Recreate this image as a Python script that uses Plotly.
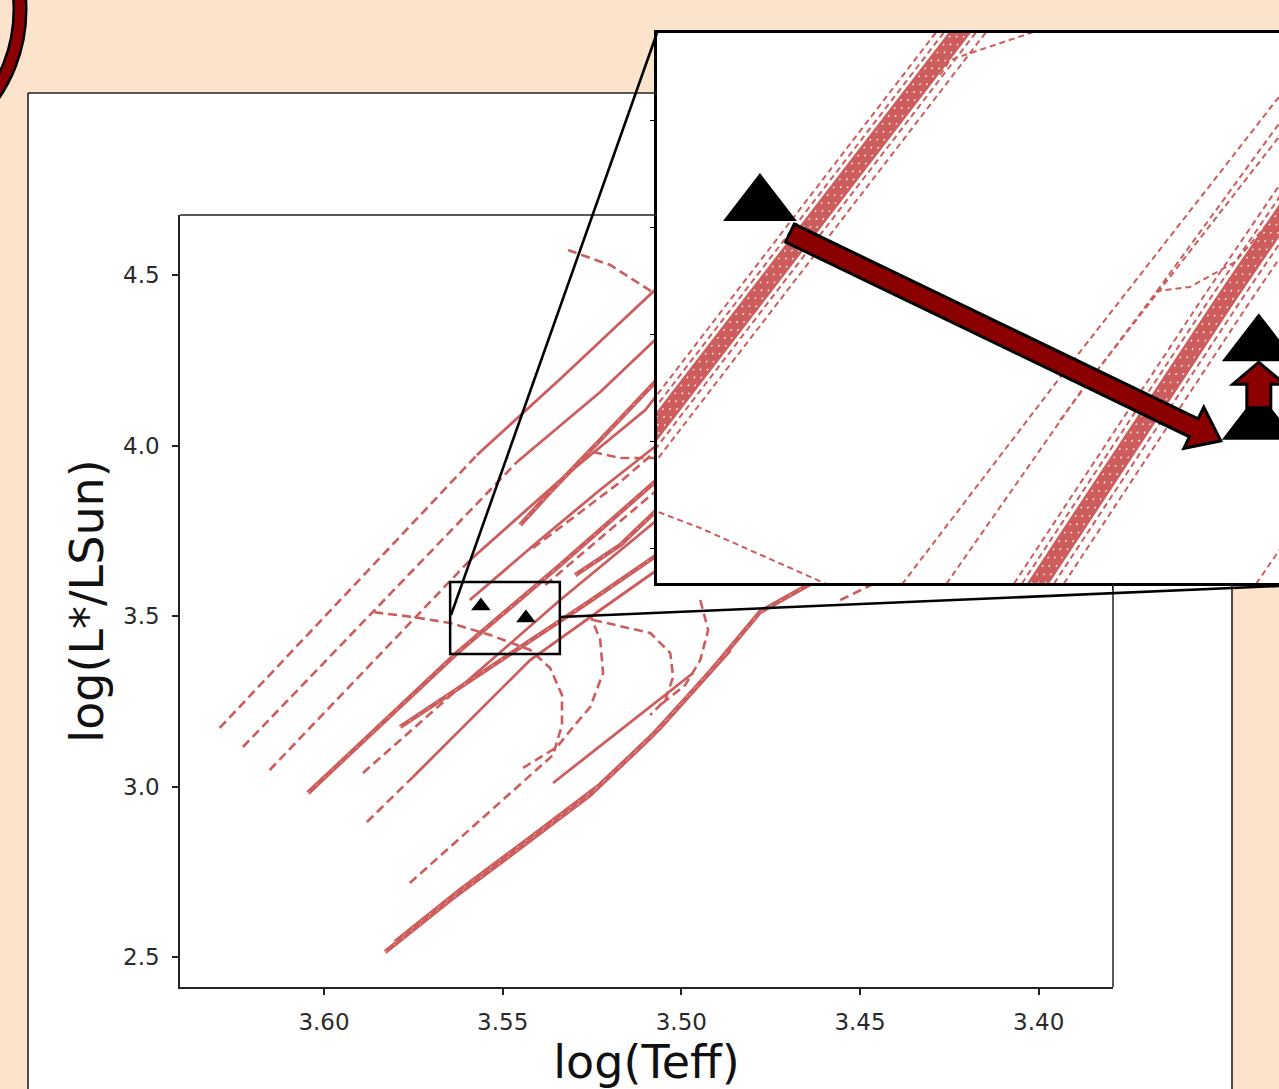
import math
import plotly.graph_objects as go

W, H = 1279, 1089

# ---------------- axis ticks ----------------
x_ticks = [3.60, 3.55, 3.50, 3.45, 3.40]
x_tick_labels = ["3.60", "3.55", "3.50", "3.45", "3.40"]
y_ticks = [2.5, 3.0, 3.5, 4.0, 4.5]
y_tick_labels = ["2.5", "3.0", "3.5", "4.0", "4.5"]
inset_x_ticks = [3.5472]
inset_y_ticks = [3.5427, 3.5253, 3.5079, 3.4905, 3.4731]

# ---------------- stars (log Teff, log L) ----------------
star_teff = [3.5561, 3.5435]
star_logl = [3.5293, 3.4941]
inset_star_teff = [3.5561, 3.5435, 3.5435]
inset_star_logl = [3.5290, 3.5062, 3.4934]

# zoom box in main panel
box_teff = [3.5647, 3.5340]
box_logl = [3.3886, 3.5997]

# ---------------- main panel tracks ----------------
# dashed tracks
m01d_teff = [3.6292, 3.5572]; m01d_logl = [3.1716, 3.9721]
m02d_teff = [3.6227, 3.5460]; m02d_logl = [3.1158, 3.9516]
m03d_teff = [3.6152, 3.5591]; m03d_logl = [3.0484, 3.6642]
mtop_teff = [3.5317, 3.5199, 3.5068]; mtop_logl = [4.5733, 4.5293, 4.4413]
mhook_teff = [3.5247, 3.5171, 3.5068]; mhook_logl = [3.9809, 3.9633, 3.9633]
m05d_teff = [3.5891, 3.5628]; m05d_logl = [3.0396, 3.2830]
m06d_teff = [3.5880, 3.5751]; m06d_logl = [2.8959, 3.0279]
m07_teff = [3.5760, 3.5359, 3.5334, 3.5334, 3.5367, 3.5423, 3.5535, 3.5647, 3.5751, 3.5866]
m07_logl = [2.7170, 3.0924, 3.1804, 3.2683, 3.3475, 3.4003, 3.4443, 3.4795, 3.4971, 3.5117]
m09_teff = [3.5443, 3.5348, 3.5303, 3.5255, 3.5219, 3.5227, 3.5255]
m09_logl = [3.0543, 3.1158, 3.1745, 3.2331, 3.3328, 3.4296, 3.5029]
m10_teff = [3.5247, 3.5087, 3.5031, 3.5023, 3.5045, 3.5087]
m10_logl = [3.4883, 3.4501, 3.3915, 3.3211, 3.2537, 3.2097]
m11_teff = [3.4947, 3.4925, 3.4947, 3.4989, 3.5059]
m11_logl = [3.5469, 3.4589, 3.3710, 3.2977, 3.2390]
mda_teff = [3.5415, 3.5171, 3.5068]; mda_logl = [3.6994, 3.8930, 3.9868]
mdb_teff = [3.5381, 3.5115, 3.5068]; mdb_logl = [3.5909, 3.8255, 3.8695]
m13_teff = [3.4555, 3.4457]; m13_logl = [3.5469, 3.5968]

# solid tracks
m01s_teff = [3.5572, 3.5339, 3.5068]; m01s_logl = [3.9721, 4.1950, 4.4619]
m02s_teff = [3.5460, 3.5227, 3.5068]; m02s_logl = [3.9516, 4.1569, 4.3152]
m03s_teff = [3.5591, 3.5339, 3.5101, 3.5068]; m03s_logl = [3.6642, 3.8988, 4.1041, 4.1481]
m05s_teff = [3.5628, 3.5339, 3.5068]; m05s_logl = [3.2830, 3.5469, 3.7815]
m06s_teff = [3.5751, 3.5423, 3.5227, 3.5068]; m06s_logl = [3.0279, 3.3710, 3.5176, 3.6349]
m08b_teff = [3.5359, 3.4967]; m08b_logl = [3.0103, 3.3328]
me1_teff = [3.5592, 3.5396, 3.5228, 3.5068]; me1_logl = [3.5469, 3.7229, 3.8695, 4.0015]

# thick (bundled) tracks
m04_teff = [3.6045, 3.5628, 3.5339, 3.5068]; m04_logl = [2.9809, 3.3915, 3.6496, 3.8988]
m08_teff = [3.5829, 3.5647, 3.5452, 3.5256, 3.5088, 3.4948, 3.4864]
m08_logl = [2.5147, 2.6672, 2.8196, 2.9751, 3.1422, 3.3065, 3.4003]
m08c_teff = [3.5801, 3.5619, 3.5424, 3.5228, 3.5060, 3.4920, 3.4780, 3.4635]
m08c_logl = [2.5440, 2.6965, 2.8490, 3.0044, 3.1716, 3.3358, 3.5117, 3.5968]
mj1_teff = [3.5451, 3.5367, 3.5227, 3.5152, 3.5068]; mj1_logl = [3.7669, 3.8636, 4.0161, 4.0982, 4.1921]
mj2_teff = [3.5297, 3.5171, 3.5068]; mj2_logl = [3.6202, 3.7082, 3.8109]
me2_teff = [3.5787, 3.5264, 3.5068]; me2_logl = [3.1745, 3.5381, 3.6789]

# ---------------- inset tracks ----------------
band_logl = [3.4647, 3.5135, 3.5624]
# band 1 (left bundle)
b1_dash_a = [3.56269, 3.55686, 3.55102]
b1_dash_b = [3.56249, 3.55665, 3.55082]
b1_core_a = [3.56226, 3.55643, 3.55059]
b1_core_b = [3.56208, 3.55625, 3.55042]
b1_core_c = [3.56191, 3.55607, 3.55024]
b1_dash_c = [3.56168, 3.55585, 3.55001]
b1_dash_d = [3.56143, 3.55559, 3.54976]
# band 2 (right bundle)
b2_dash_a = [3.54996, 3.54496, 3.53979]
b2_dash_b = [3.54976, 3.54476, 3.53958]
b2_core_a = [3.54953, 3.54453, 3.53936]
b2_core_b = [3.54936, 3.54436, 3.53918]
b2_core_c = [3.54918, 3.54418, 3.53900]
b2_dash_c = [3.54895, 3.54395, 3.53878]
b2_dash_d = [3.54870, 3.54370, 3.53852]

d1_teff = [3.55282, 3.54857, 3.54246]; d1_logl = [3.4647, 3.50053, 3.55098]
d2_teff = [3.55168, 3.54797, 3.54246]; d2_logl = [3.4647, 3.49890, 3.54447]
d3_teff = [3.54852, 3.54607, 3.54524, 3.54410, 3.54246]; d3_logl = [3.49402, 3.51502, 3.51567, 3.51973, 3.53226]
d4_teff = [3.54607, 3.54246]; d4_logl = [3.51502, 3.54691]
br_teff = [3.55155, 3.55130, 3.54904]; br_logl = [3.55017, 3.55261, 3.55749]
ll_teff = [3.55913, 3.55761, 3.55448, 3.55383]; ll_logl = [3.48019, 3.47645, 3.4675, 3.46522]
rb_teff = [3.54385, 3.54246]; rb_logl = [3.4647, 3.47775]

# ---------------- styling ----------------
PEACH = "#FCE4CC"
TRACK = "#CD5C5C"
DARKRED = "#8B0000"
FONT = "DejaVu Sans"

MAIN_X_RANGE = [3.6403, 3.3792]
MAIN_Y_RANGE = [2.412, 4.676]
IX_RANGE = [3.5587, 3.54299]
IY_RANGE = [3.4675, 3.557]
MX_DOM = [180 / W, 1113 / W]
MY_DOM = [1 - 987 / H, 1 - 215 / H]
IX_DOM = [657 / W, 1.0]
IY_DOM = [1 - 583 / H, 1 - 33 / H]

fig = go.Figure()


def add_line(tx, ly, width, dash, ax="x", ay="y", color=TRACK, opacity=1.0):
    fig.add_trace(go.Scatter(x=tx, y=ly, mode="lines", xaxis=ax, yaxis=ay,
                             line=dict(color=color, width=width, dash=dash),
                             opacity=opacity, hoverinfo="skip", showlegend=False))


main_dashed = [(m01d_teff, m01d_logl), (m02d_teff, m02d_logl), (m03d_teff, m03d_logl),
               (mtop_teff, mtop_logl), (mhook_teff, mhook_logl), (m05d_teff, m05d_logl),
               (m06d_teff, m06d_logl), (m07_teff, m07_logl), (m09_teff, m09_logl),
               (m10_teff, m10_logl), (m11_teff, m11_logl), (mda_teff, mda_logl),
               (mdb_teff, mdb_logl), (m13_teff, m13_logl)]
main_solid = [(m01s_teff, m01s_logl), (m02s_teff, m02s_logl), (m03s_teff, m03s_logl),
              (m05s_teff, m05s_logl), (m06s_teff, m06s_logl), (m08b_teff, m08b_logl),
              (me1_teff, me1_logl)]
main_thick = [(m04_teff, m04_logl), (m08_teff, m08_logl), (m08c_teff, m08c_logl),
              (mj1_teff, mj1_logl), (mj2_teff, mj2_logl), (me2_teff, me2_logl)]

for t, l in main_dashed:
    add_line(t, l, 2.6, "9px,5px")
for t, l in main_solid:
    add_line(t, l, 2.8, "solid")
for t, l in main_thick:
    add_line(t, l, 4.5, "solid")
for t, l in main_thick:
    add_line(t, l, 1.0, "2px,9px", color="white", opacity=0.6)

fig.add_trace(go.Scatter(x=star_teff, y=star_logl, mode="markers", xaxis="x", yaxis="y",
                         marker=dict(symbol="triangle-up", size=17, color="black"),
                         hoverinfo="skip", showlegend=False))

# inset
inset_thin_dashed = [(b1_dash_a, band_logl), (b1_dash_b, band_logl), (b1_dash_c, band_logl),
                     (b1_dash_d, band_logl), (b2_dash_a, band_logl), (b2_dash_b, band_logl),
                     (b2_dash_c, band_logl), (b2_dash_d, band_logl), (d1_teff, d1_logl),
                     (d2_teff, d2_logl), (d3_teff, d3_logl), (d4_teff, d4_logl),
                     (br_teff, br_logl), (ll_teff, ll_logl), (rb_teff, rb_logl)]
inset_core = [(b1_core_a, band_logl), (b1_core_b, band_logl), (b1_core_c, band_logl),
              (b2_core_a, band_logl), (b2_core_b, band_logl), (b2_core_c, band_logl)]

for t, l in inset_thin_dashed:
    add_line(t, l, 2.0, "6px,4px", "x2", "y2")
for t, l in inset_core:
    add_line(t, l, 7.0, "solid", "x2", "y2")
for t, l in inset_core:
    add_line(t, l, 1.3, "2px,8px", "x2", "y2", color="white", opacity=0.9)

fig.add_trace(go.Scatter(x=inset_star_teff, y=inset_star_logl, mode="markers", xaxis="x2", yaxis="y2",
                         marker=dict(symbol="triangle-up", size=64, color="black"),
                         hoverinfo="skip", showlegend=False))


# ---------------- helpers for decorations ----------------
def inset_to_px(t, l):
    fx = (t - IX_RANGE[0]) / (IX_RANGE[1] - IX_RANGE[0])
    fy = (l - IY_RANGE[0]) / (IY_RANGE[1] - IY_RANGE[0])
    x = (IX_DOM[0] + fx * (IX_DOM[1] - IX_DOM[0])) * W
    y = (1 - (IY_DOM[0] + fy * (IY_DOM[1] - IY_DOM[0]))) * H
    return x, y


def P(x, y):
    return x / W, 1 - y / H


def arrow_path(x0, y0, x1, y1, shaft_hw, head_hw, head_len):
    dx, dy = x1 - x0, y1 - y0
    d = math.hypot(dx, dy)
    ux, uy = dx / d, dy / d
    nx, ny = -uy, ux
    bx, by = x1 - ux * head_len, y1 - uy * head_len
    pts = [(x0 + nx * shaft_hw, y0 + ny * shaft_hw), (bx + nx * shaft_hw, by + ny * shaft_hw),
           (bx + nx * head_hw, by + ny * head_hw), (x1, y1),
           (bx - nx * head_hw, by - ny * head_hw), (bx - nx * shaft_hw, by - ny * shaft_hw),
           (x0 - nx * shaft_hw, y0 - ny * shaft_hw)]
    return "M " + " L ".join("%.5f,%.5f" % P(px, py) for px, py in pts) + " Z"


shapes = []
# white panel
x0p, y0p = P(28, 1100)
x1p, y1p = P(1232, 93)
shapes.append(dict(type="rect", xref="paper", yref="paper", x0=x0p, y0=y0p, x1=x1p, y1=y1p,
                   fillcolor="white", line=dict(width=0), layer="below"))


def seg(xa, ya, xb, yb, width, color="black", layer="above"):
    a = P(xa, ya)
    b = P(xb, yb)
    shapes.append(dict(type="line", xref="paper", yref="paper", x0=a[0], y0=a[1], x1=b[0], y1=b[1],
                       line=dict(color=color, width=width), layer=layer))


# panel borders (parts not hidden by inset)
seg(28, 93, 28, 1095, 1.6, "#222")
seg(28, 93, 657, 93, 1.6, "#222")
seg(1232, 583, 1232, 1095, 1.6, "#222")
# main axes frame top and right (partially hidden behind inset)
seg(180, 215, 657, 215, 1.5, "#222")
seg(1113, 583, 1113, 987, 1.5, "#222")

# circle ring top-left
c0 = P(-280, 160)
c1 = P(20, -140)
shapes.append(dict(type="circle", xref="paper", yref="paper", x0=c0[0], y0=c0[1], x1=c1[0], y1=c1[1],
                   line=dict(color="black", width=15), layer="below"))
shapes.append(dict(type="circle", xref="paper", yref="paper", x0=c0[0], y0=c0[1], x1=c1[0], y1=c1[1],
                   line=dict(color=DARKRED, width=10), layer="below"))

# zoom box on main panel
shapes.append(dict(type="rect", xref="x", yref="y", x0=box_teff[0], x1=box_teff[1],
                   y0=box_logl[0], y1=box_logl[1], line=dict(color="black", width=2.5),
                   fillcolor="rgba(0,0,0,0)", layer="above"))
# connectors
seg(451, 615, 657, 33, 2.6)
seg(560, 617, 1279, 586, 2.6)

# arrows in inset
t1 = inset_to_px(inset_star_teff[0], inset_star_logl[0])
t2 = inset_to_px(inset_star_teff[1], inset_star_logl[1])
t3 = inset_to_px(inset_star_teff[2], inset_star_logl[2])
big = arrow_path(t1[0] + 30, t1[1] + 28, t3[0] - 38, t3[1] + 17, 10, 23, 30)
small = arrow_path(t3[0], t3[1] - 16, t2[0], t2[1] + 17, 12, 26, 22)
for pth in (big, small):
    shapes.append(dict(type="path", xref="paper", yref="paper", path=pth,
                       fillcolor=DARKRED, line=dict(color="black", width=3), layer="above"))

tickfont = dict(family=FONT, size=23, color="#2a2a2a")

fig.update_layout(
    width=W, height=H, margin=dict(l=0, r=0, t=0, b=0),
    paper_bgcolor=PEACH, plot_bgcolor="white", showlegend=False,
    shapes=shapes,
    xaxis=dict(domain=MX_DOM, range=MAIN_X_RANGE, anchor="y",
               tickmode="array", tickvals=x_ticks, ticktext=x_tick_labels,
               ticks="outside", ticklen=6, tickwidth=1.5, tickcolor="#222",
               showline=True, linecolor="#222", linewidth=1.5, mirror=False,
               showgrid=False, zeroline=False, tickfont=tickfont, ticklabelstandoff=8,
               title=dict(text="log(Teff)", font=dict(family=FONT, size=46, color="#111"), standoff=0)),
    yaxis=dict(domain=MY_DOM, range=MAIN_Y_RANGE, anchor="x",
               tickmode="array", tickvals=y_ticks, ticktext=y_tick_labels,
               ticks="outside", ticklen=6, tickwidth=1.5, tickcolor="#222",
               showline=True, linecolor="#222", linewidth=1.5, mirror=False,
               showgrid=False, zeroline=False, tickfont=tickfont, ticklabelstandoff=8,
               title=dict(text="log(L*/LSun)", font=dict(family=FONT, size=46, color="#111"), standoff=5)),
    xaxis2=dict(domain=IX_DOM, range=IX_RANGE, anchor="y2",
                tickmode="array", tickvals=inset_x_ticks, showticklabels=False,
                ticks="outside", ticklen=4, tickcolor="black",
                showline=True, mirror=True, linecolor="black", linewidth=3,
                showgrid=False, zeroline=False),
    yaxis2=dict(domain=IY_DOM, range=IY_RANGE, anchor="x2",
                tickmode="array", tickvals=inset_y_ticks, showticklabels=False,
                ticks="outside", ticklen=4, tickcolor="black",
                showline=True, linecolor="black", linewidth=3,
                showgrid=False, zeroline=False),
)

fig.write_html(
    "out.html",
    config={"displayModeBar": False},
    post_script="document.body.style.margin='0px';document.body.style.overflow='hidden';",
)
